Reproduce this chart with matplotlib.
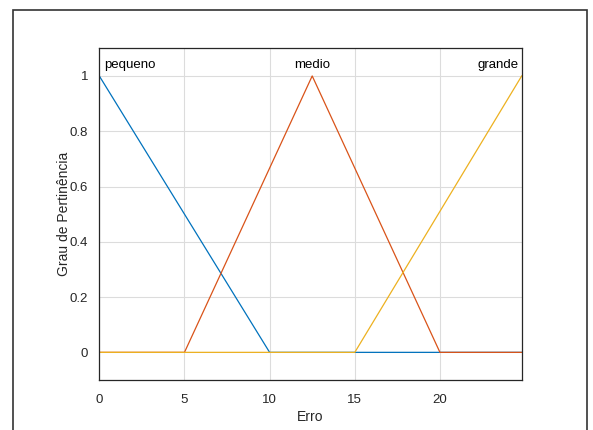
import matplotlib
matplotlib.use("Agg")
import matplotlib.pyplot as plt
from matplotlib.patches import Rectangle

plt.rcParams['font.family'] = ['Liberation Sans', 'DejaVu Sans']

# Membership functions for the error variable
x_max = 24.8
pequeno_x = [0, 10, x_max]
pequeno_y = [1, 0, 0]
medio_x = [0, 5, 12.5, 20, x_max]
medio_y = [0, 0, 1, 0, 0]
grande_x = [0, 15, x_max]
grande_y = [0, 0, 1]

names = ["pequeno", "medio", "grande"]
name_x = [0.3, 12.5, x_max - 0.2]
name_ha = ["left", "center", "right"]

x_ticks = [0, 5, 10, 15, 20]
y_ticks = [0, 0.2, 0.4, 0.6, 0.8, 1]
y_tick_labels = ["0", "0.2", "0.4", "0.6", "0.8", "1"]

colors = ["#0072BD", "#D95319", "#EDB120"]

fig = plt.figure(figsize=(5.93, 4.30), dpi=100)
ax = fig.add_axes([99.3 / 593, 1 - 380 / 430, (521.7 - 99.3) / 593, (380 - 48.3) / 430])

ax.plot(pequeno_x, pequeno_y, color=colors[0], lw=0.9)
ax.plot(medio_x, medio_y, color=colors[1], lw=0.9)
ax.plot(grande_x, grande_y, color=colors[2], lw=0.9)

for name, xx, ha in zip(names, name_x, name_ha):
    ax.text(xx, 1.028, name, ha=ha, va="baseline", fontsize=9.5, color="#000000")

ax.set_xlim(0, x_max)
ax.set_ylim(-0.1, 1.1)
ax.set_xticks(x_ticks)
ax.set_yticks(y_ticks)
ax.set_yticklabels(y_tick_labels)
ax.grid(True, color="#dcdcdc", lw=0.8)
ax.set_axisbelow(True)
ax.tick_params(length=0, labelsize=9.5, labelcolor="#262626")
ax.tick_params(axis="x", pad=10)
ax.tick_params(axis="y", pad=8)
for sp in ax.spines.values():
    sp.set_color("#262626")
    sp.set_linewidth(0.9)

ax.set_xlabel("Erro", fontsize=10, color="#262626", labelpad=3)
ax.set_ylabel("Grau de Pertinência", fontsize=10, color="#262626", labelpad=-1)

# Outer frame around the plot area
fig.patches.append(Rectangle((12.5 / 593, -0.1), (587 - 12.5) / 593, 1.1 - 10.5 / 430,
                             transform=fig.transFigure, fill=False,
                             edgecolor="#333333", lw=1.2))

fig.savefig("out.png", dpi=100)
